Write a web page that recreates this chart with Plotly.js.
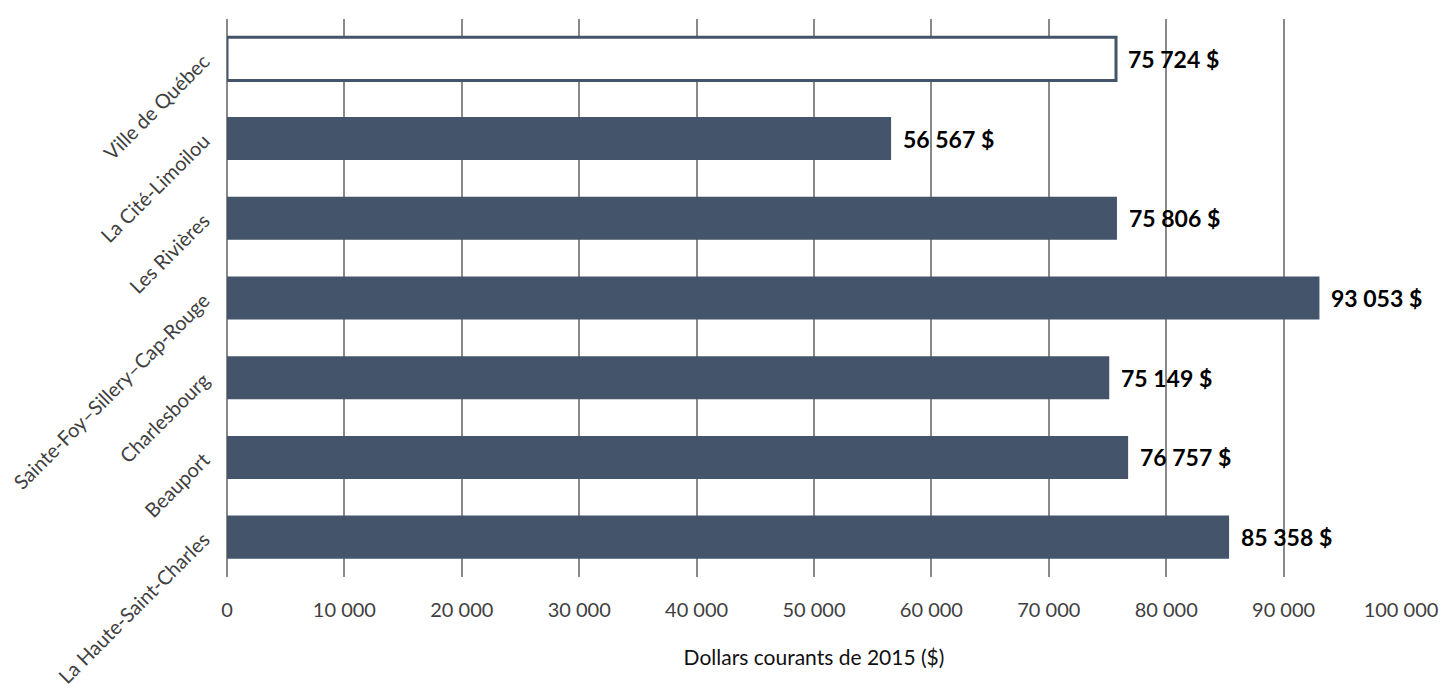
<!DOCTYPE html>
<html>
<head>
<meta charset="utf-8">
<script src="https://cdn.plot.ly/plotly-3.0.1.min.js"></script>
<style>
html,body{margin:0;padding:0;background:#fff;}
#chart{width:1442px;height:691px;}
</style>
</head>
<body>
<div id="chart"></div>
<script>
const categories = ["Ville de Québec", "La Cité-Limoilou", "Les Rivières", "Sainte-Foy–Sillery–Cap-Rouge", "Charlesbourg", "Beauport", "La Haute-Saint-Charles"];
const values = [75724, 56567, 75806, 93053, 75149, 76757, 85358];
const tickValues = [0, 10000, 20000, 30000, 40000, 50000, 60000, 70000, 80000, 90000, 100000];
const xTitle = "Dollars courants de 2015 ($)";

const barColor = "#44546A";
const fills = categories.map((c, i) => i === 0 ? "#ffffff" : barColor);
const lineWidths = categories.map((c, i) => i === 0 ? 3 : 0);

function fmt(v) {
  return String(v).replace(/\B(?=(\d{3})+(?!\d))/g, " ") + " $";
}

const trace = {
  type: "bar",
  orientation: "h",
  y: categories,
  x: values,
  marker: { color: fills, line: { color: barColor, width: lineWidths } },
  width: 0.54,
  hoverinfo: "none"
};

const annotations = categories.map((c, i) => ({
  x: values[i],
  y: c,
  xref: "x",
  yref: "y",
  text: "<b>" + fmt(values[i]) + "</b>",
  showarrow: false,
  xanchor: "left",
  yanchor: "middle",
  xshift: 10,
  font: { family: "Lato, 'Open Sans', sans-serif", size: 23, color: "#000" }
}));

const layout = {
  width: 1442,
  height: 691,
  margin: { l: 227, r: 41, t: 19, b: 114 },
  paper_bgcolor: "#fff",
  plot_bgcolor: "#fff",
  separators: ", ",
  showlegend: false,
  font: { family: "Lato, 'Open Sans', sans-serif", color: "#404040", size: 20 },
  annotations: annotations,
  xaxis: {
    range: [0, 100000],
    tickvals: tickValues,
    tickformat: ",.0f",
    showgrid: true,
    gridcolor: "#898989",
    gridwidth: 2,
    zeroline: true,
    zerolinecolor: "#898989",
    zerolinewidth: 2,
    showline: false,
    ticks: "",
    ticklabelstandoff: 19,
    tickfont: { size: 20, color: "#404040" },
    title: { text: xTitle, font: { size: 21, color: "#111" }, standoff: 30 }
  },
  yaxis: {
    autorange: "reversed",
    tickangle: -45,
    showgrid: false,
    zeroline: false,
    showline: false,
    ticks: "",
    ticklabelstandoff: 22,
    tickfont: { size: 20, color: "#404040" }
  }
};

Plotly.newPlot("chart", [trace], layout, { displayModeBar: false, staticPlot: true });
</script>
</body>
</html>
